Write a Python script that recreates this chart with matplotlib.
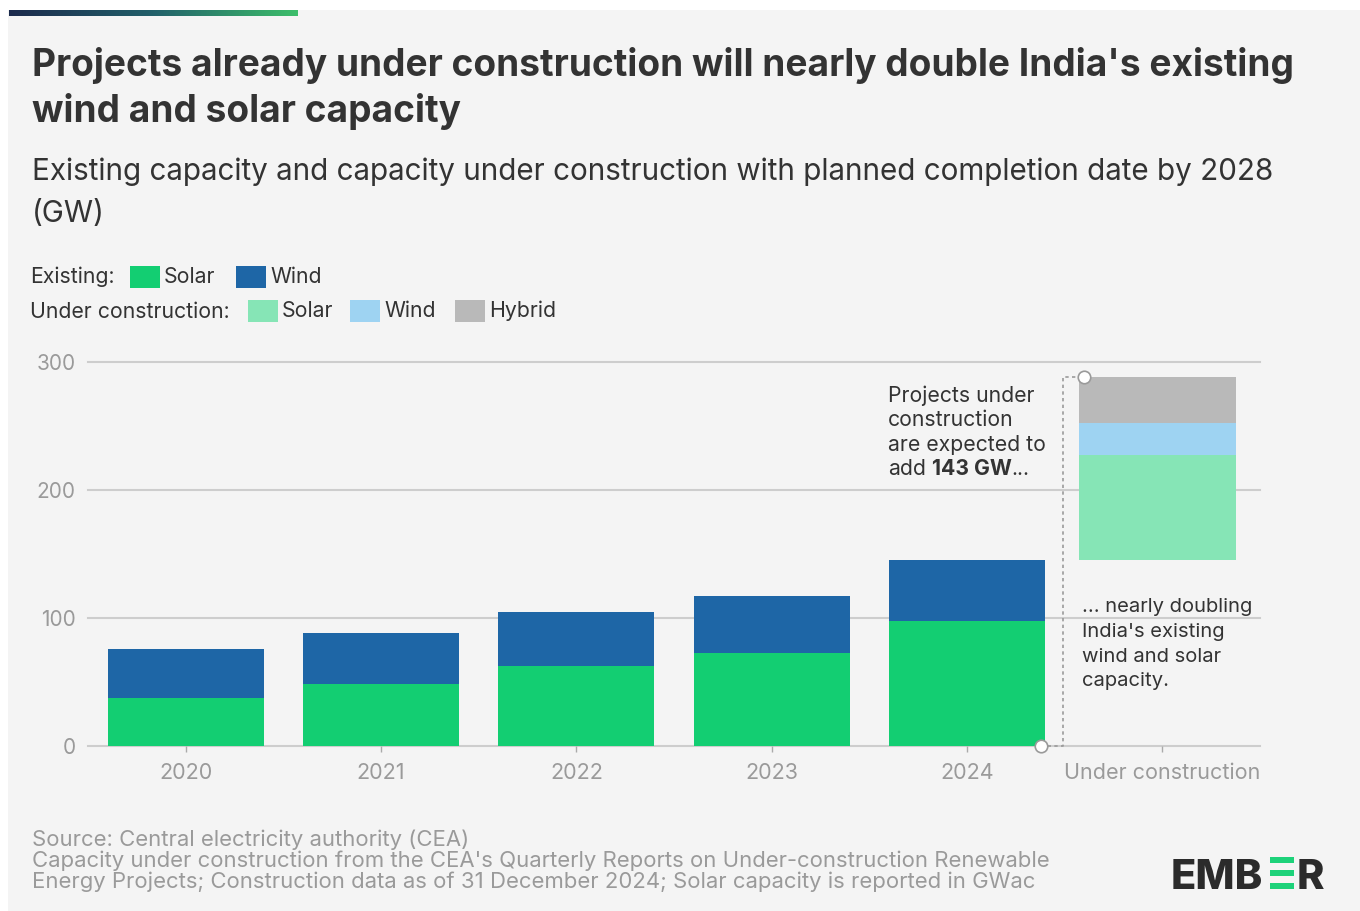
import matplotlib
matplotlib.use("Agg")
import matplotlib.pyplot as plt
import numpy as np
from matplotlib.patches import Rectangle
from matplotlib.colors import LinearSegmentedColormap
from matplotlib import font_manager

# ---------------- data ----------------
years = ["2020", "2021", "2022", "2023", "2024"]
existing_solar = [37.5, 48.5, 62.5, 72.5, 97.5]
existing_wind = [38.5, 40.0, 42.0, 44.5, 48.0]
uc_label = "Under construction"
uc_solar = 81.5
uc_wind = 25.5
uc_hybrid = 36.0
y_ticks = [0, 100, 200, 300]

# ---------------- style ----------------
C_SOLAR = "#13CE72"
C_WIND = "#1E66A6"
C_UC_SOLAR = "#86E5B6"
C_UC_WIND = "#9ED3F2"
C_HYBRID = "#B9B9B9"
BG = "#F4F4F4"
TXT = "#333333"
GREY = "#9A9A9A"

names = {f.name for f in font_manager.fontManager.ttflist}
FONT = "Inter" if "Inter" in names else "DejaVu Sans"
plt.rcParams["font.family"] = [FONT, "DejaVu Sans"]

W, H = 1360, 911
fig = plt.figure(figsize=(W / 100, H / 100), dpi=100, facecolor="white")
renderer = fig.canvas.get_renderer()


def X(px):
    return px / W


def Y(py):
    return 1 - py / H


def ftext(px, py, s, size, target_w=None, **kw):
    kw.setdefault("va", "baseline")
    t = fig.text(X(px), Y(py), s, fontsize=size, **kw)
    if target_w:
        w = t.get_window_extent(renderer).width
        t.set_fontsize(size * target_w / w)
    return t


def width(t):
    return t.get_window_extent(renderer).width


def measure(s, size, **kw):
    t = fig.text(0.5, 0.5, s, fontsize=size, **kw)
    w = width(t)
    t.remove()
    return w


# background panel
fig.patches.append(Rectangle((X(8), 0), 1 - X(8), Y(10), transform=fig.transFigure,
                             facecolor=BG, edgecolor="none", zorder=-10))

# gradient bar
gax = fig.add_axes([X(9), Y(16), X(298) - X(9), Y(10) - Y(16)])
cmap = LinearSegmentedColormap.from_list("g", ["#1B2A4C", "#22606A", "#3DBE6B"])
gax.imshow(np.linspace(0, 1, 256)[None, :], cmap=cmap, aspect="auto")
gax.axis("off")

# titles
t1 = ftext(32, 76, "Projects already under construction will nearly double India's existing",
           26, target_w=1260, color=TXT, fontweight="bold")
ftext(32, 122, "wind and solar capacity", t1.get_fontsize(), color=TXT, fontweight="bold")
s1 = ftext(32, 180, "Existing capacity and capacity under construction with planned completion date by 2028",
           20, target_w=1244, color=TXT)
ftext(32, 222, "(GW)", s1.get_fontsize(), color=TXT)

# legend
lgs = 14 * 200 / measure("Under construction:", 14)
ftext(30, 318, "Under construction:", lgs, color=TXT)
ftext(30, 283, "Existing:", lgs, color=TXT)


def legend_item(x0, ytop, color, label):
    fig.patches.append(Rectangle((X(x0), Y(ytop + 22)), X(30), 22 / H, transform=fig.transFigure,
                                 facecolor=color, edgecolor="none"))
    ftext(x0 + 34, ytop + 17, label, lgs, color=TXT)


legend_item(130, 266, C_SOLAR, "Solar")
legend_item(236, 266, C_WIND, "Wind")
legend_item(248, 300, C_UC_SOLAR, "Solar")
legend_item(350, 300, C_UC_WIND, "Wind")
legend_item(455, 300, C_HYBRID, "Hybrid")

# ---------------- axes ----------------
ax = fig.add_axes([X(88), Y(746), X(1260) - X(88), Y(362) - Y(746)])
ax.set_facecolor("none")
cats = years + [uc_label]
xpos = np.arange(len(cats))
ax.set_xlim(-0.5, len(cats) - 0.5)
ax.set_ylim(0, 300)
for s in ax.spines.values():
    s.set_visible(False)
for yt in y_ticks:
    ax.axhline(yt, color="#CDCDCD", lw=1.5, zorder=0, clip_on=False)

bw = 0.8
xe = xpos[:len(years)]
ax.bar(xe, existing_solar, width=bw, color=C_SOLAR, zorder=2)
ax.bar(xe, existing_wind, width=bw, bottom=existing_solar, color=C_WIND, zorder=2)

base = existing_solar[-1] + existing_wind[-1]
xu = xpos[-1] - 0.025  # reference bar sits slightly left of its tick
ax.bar(xu, uc_solar, width=bw, bottom=base, color=C_UC_SOLAR, zorder=2)
ax.bar(xu, uc_wind, width=bw, bottom=base + uc_solar, color=C_UC_WIND, zorder=2)
ax.bar(xu, uc_hybrid, width=bw, bottom=base + uc_solar + uc_wind, color=C_HYBRID, zorder=2)
top = base + uc_solar + uc_wind + uc_hybrid

ax.set_yticks(y_ticks)
ax.set_yticklabels([str(v) for v in y_ticks])
ax.set_xticks(xpos)
ax.set_xticklabels(cats)
ax.tick_params(axis="y", length=0, pad=9, labelsize=15, labelcolor=GREY)
ax.tick_params(axis="x", length=4, width=1, color="#AAAAAA", pad=8, labelsize=15.5, labelcolor=GREY)

# bracket
xl = xe[-1] + bw / 2 - 0.02
xr = xpos[-1] - bw / 2
xm = (xl + xr) / 2
ax.plot([xl, xm, xm, xr], [0, 0, top, top], color="#9A9A9A", lw=1.2, ls=(0, (2, 2)),
        zorder=3, clip_on=False)
ax.plot([xl, xr], [0, top], ls="none", marker="o", ms=9, mfc="white", mec="#9A9A9A",
        mew=1.2, zorder=4, clip_on=False)

# annotations
asz = 14 * 158 / measure("are expected to", 14)
ftext(888, 402, "Projects under", asz, color=TXT)
ftext(888, 426, "construction", asz, color=TXT)
ftext(888, 451, "are expected to", asz, color=TXT)
p1 = ftext(888, 475, "add", asz, color=TXT)
sp = measure("x x", asz) - measure("xx", asz)
x2 = 888 + width(p1) + sp
p2 = ftext(x2, 475, "143 GW", asz, color=TXT, fontweight="bold")
ftext(x2 + width(p2), 475, "...", asz, color=TXT)

bsz = 14 * 171 / measure("... nearly doubling", 14)
ftext(1082, 612, "... nearly doubling", bsz, color=TXT)
ftext(1082, 637, "India's existing", bsz, color=TXT)
ftext(1082, 662, "wind and solar", bsz, color=TXT)
ftext(1082, 686, "capacity.", bsz, color=TXT)

# footer
fsz = 13 * 1013 / measure("Capacity under construction from the CEA's Quarterly Reports on Under-construction Renewable", 13)
ftext(32, 846, "Source: Central electricity authority (CEA)", fsz, color=GREY)
ftext(32, 867, "Capacity under construction from the CEA's Quarterly Reports on Under-construction Renewable",
      fsz, color=GREY)
ftext(32, 888, "Energy Projects; Construction data as of 31 December 2024; Solar capacity is reported in GWac",
      fsz, color=GREY)

# logo
e = ftext(1171, 889, "EMB", 30, target_w=92, color="#2B2B2B", fontweight="heavy")
for yb in (857, 870, 883):
    fig.patches.append(Rectangle((X(1270), Y(yb + 5.5)), X(24), 5.5 / H, transform=fig.transFigure,
                                 facecolor="#1DD27A", edgecolor="none"))
ftext(1297, 889, "R", e.get_fontsize(), color="#2B2B2B", fontweight="heavy")

fig.savefig("out.png", dpi=100, facecolor="white")
